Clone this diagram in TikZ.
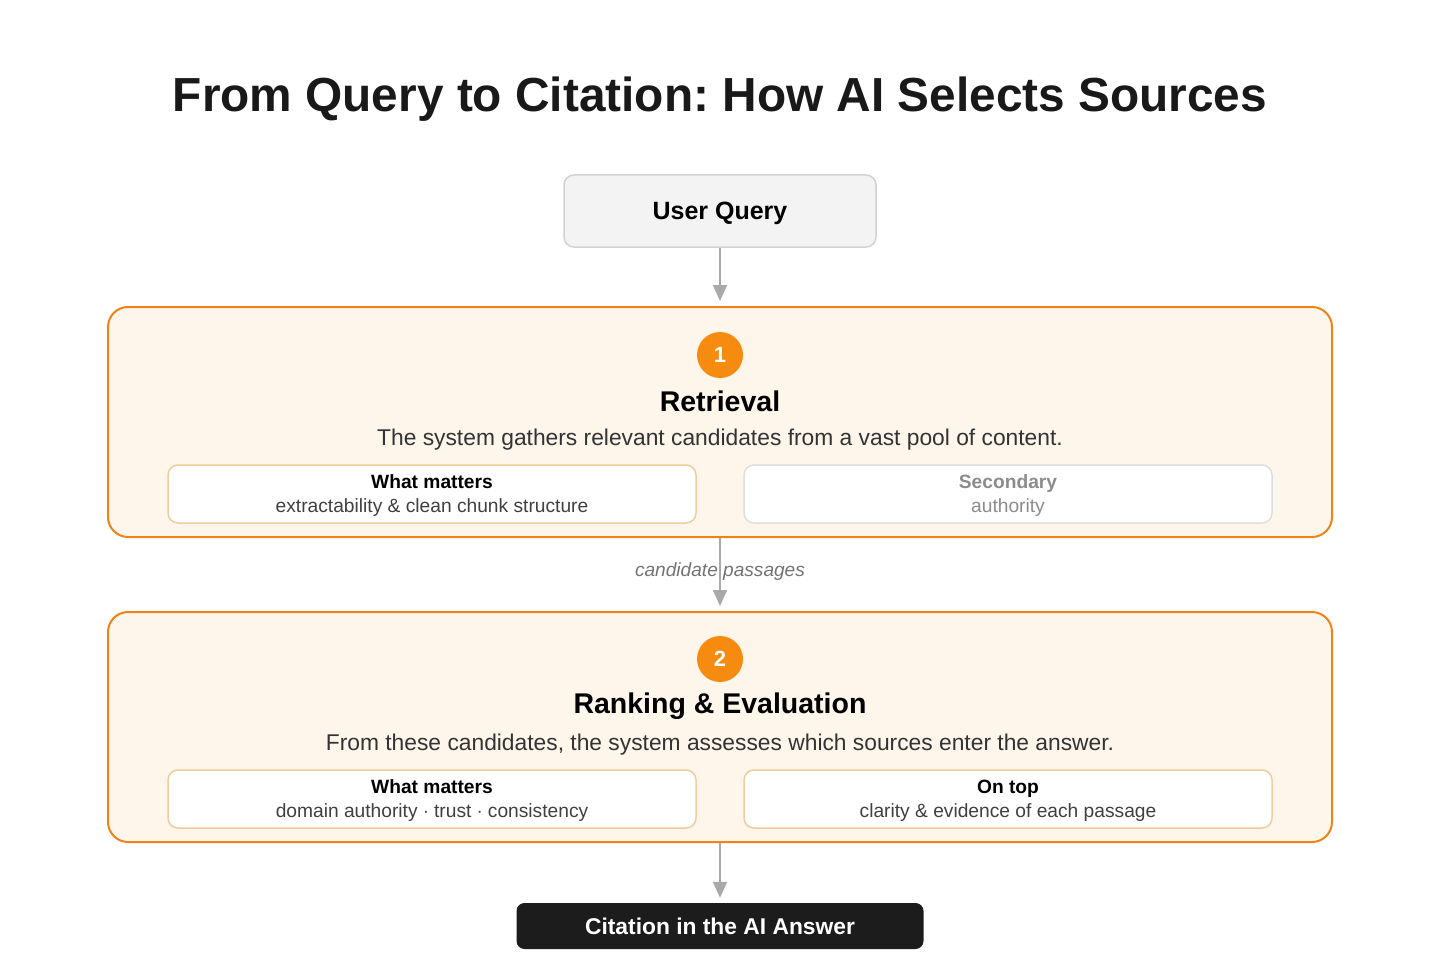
\documentclass[tikz,border=0pt]{standalone}
\usepackage{fontspec}
\setmainfont{Liberation Sans}
\usetikzlibrary{arrows.meta}
\frenchspacing
\definecolor{stageorange}{HTML}{EE8419}
\definecolor{stagefill}{HTML}{FEF6EB}
\definecolor{dotorange}{HTML}{F68B0F}
\definecolor{queryfill}{HTML}{F3F3F3}
\definecolor{querydraw}{HTML}{D2D2D2}
\definecolor{arrowgray}{HTML}{A9A9A9}
\definecolor{notedraw}{HTML}{EDCDA0}
\definecolor{greydraw}{HTML}{DEDEDE}
\definecolor{answerfill}{HTML}{1C1C1C}
\tikzset{
  stage box/.style={
    rounded corners=20pt,
    draw=stageorange,
    line width=2pt,
    fill=stagefill,
    minimum width=1224pt,
    minimum height=230pt,
  },
  note box/.style={
    rounded corners=10pt,
    draw=notedraw,
    line width=1.5pt,
    fill=white,
    align=center,
    minimum width=528pt,
    minimum height=58pt,
    text depth=0pt,
    font=\fontsize{19.2}{24}\selectfont,
  },
  step dot/.style={
    circle,
    fill=dotorange,
    minimum size=46pt,
    inner sep=0pt,
    text=white,
    font=\fontsize{22}{26}\selectfont\bfseries,
  },
  flow/.style={
    -{Triangle[width=14pt,length=16pt]},
    draw=arrowgray,
    line width=2pt,
    shorten >=5pt,
  },
}

\begin{document}
\begin{tikzpicture}[x=1pt, y=-1pt]
      \useasboundingbox (0,0) rectangle (1440,960);

      \node[text=black!90, font=\fontsize{47.8}{56}\selectfont\bfseries] (title) at (720,99)
        {From Query to Citation: How AI Selects Sources};

      \node[rounded corners=10pt, draw=querydraw, line width=1.5pt, fill=queryfill,
            minimum width=312pt, minimum height=72pt, text height=18pt, text depth=0pt,
            font=\fontsize{25}{30}\selectfont\bfseries] (q) at (720,211) {User Query};

      % stage 1
      \node[stage box] (s1) at (720,422) {};
      \node[step dot] (c1) at (720,355) {1};
      \node[font=\fontsize{28.5}{33}\selectfont\bfseries] (t1) at (720,401) {Retrieval};
      \node[text=black!80, font=\fontsize{22.8}{27}\selectfont] (d1) at (720,440)
        {The system gathers relevant candidates from a vast pool of content.};
      \node[note box] (m1) at (432,494)
        {\textbf{What matters}\\\textcolor{black!75}{extractability \& clean chunk structure}};
      \node[note box, draw=greydraw, text=black!45] (n1) at (1008,494)
        {\textbf{Secondary}\\authority};

      % stage 2
      \node[stage box] (s2) at (720,727) {};
      \node[step dot] (c2) at (720,659) {2};
      \node[font=\fontsize{28.5}{33}\selectfont\bfseries] (t2) at (720,706) {Ranking \& Evaluation};
      \node[text=black!80, font=\fontsize{22.8}{27}\selectfont] (d2) at (720,745)
        {From these candidates, the system assesses which sources enter the answer.};
      \node[note box] (m2) at (432,799)
        {\textbf{What matters}\\\textcolor{black!75}{domain authority $\cdot$ trust $\cdot$ consistency}};
      \node[note box] (n2) at (1008,799)
        {\textbf{On top}\\\textcolor{black!75}{clarity \& evidence of each passage}};

      \node[rounded corners=8pt, fill=answerfill, minimum width=407pt, minimum height=46pt,
            text=white, font=\fontsize{22.8}{27}\selectfont\bfseries] (ans) at (720,926)
        {Citation in the AI Answer};

      \draw[flow] (q) -- (s1);
      \draw[flow] (s1) -- node[yshift=3pt, text=black!55, font=\fontsize{19.1}{23}\selectfont\itshape] {candidate passages} (s2);
      \draw[flow] (s2) -- (ans);
\end{tikzpicture}
\end{document}
